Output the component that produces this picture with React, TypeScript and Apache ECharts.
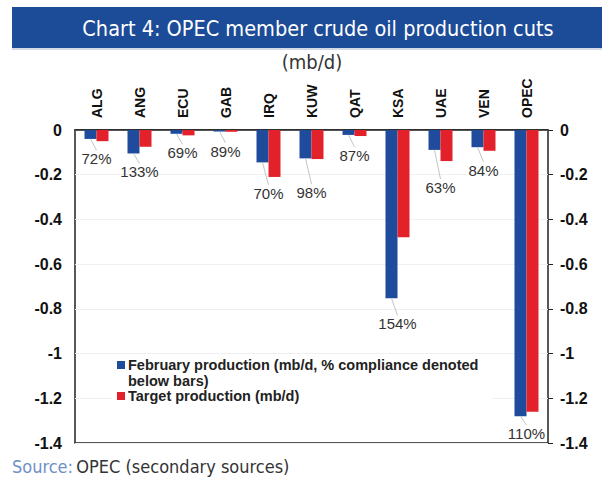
import React, { useEffect, useRef } from "react";
import * as echarts from "echarts";

const categories = ["ALG", "ANG", "ECU", "GAB", "IRQ", "KUW", "QAT", "KSA", "UAE", "VEN", "OPEC"];
const februaryProduction = [-0.04, -0.105, -0.017, -0.007, -0.145, -0.127, -0.022, -0.753, -0.089, -0.077, -1.28];
const targetProduction = [-0.05, -0.075, -0.024, -0.008, -0.21, -0.13, -0.027, -0.48, -0.139, -0.093, -1.26];
const compliance = ["72%", "133%", "69%", "89%", "70%", "98%", "87%", "154%", "63%", "84%", "110%"];
const yTicks = { min: -1.4, max: 0, interval: 0.2 };

const titleText = "Chart 4: OPEC member crude oil production cuts";
const unitText = "(mb/d)";
const sourceLabel = "Source:";
const sourceText = "OPEC (secondary sources)";
const legendFeb = ["February production (mb/d, % compliance denoted", "below bars)"];
const legendTarget = "Target production (mb/d)";

// layout only: leader-line length (px) below the lower bar for each compliance label
const leaderPx = [9, 10, 9, 11, 8, 25, 11, 17, 18, 11, 9];

const BLUE = "#1f4b9c";
const RED = "#e3212b";
const SANS = "'Liberation Sans', Arial, sans-serif";
const NARROW = "'DejaVu Sans Condensed', 'Open Sans', sans-serif";

export default function App() {
  const ref = useRef<HTMLDivElement>(null);
  useEffect(() => {
    const chart = echarts.init(ref.current!, null, { renderer: "svg" });
    const labelData = categories.map((c, i) => [i, Math.min(februaryProduction[i], targetProduction[i]), februaryProduction[i], compliance[i], leaderPx[i]]);
    const legendFont = { fill: "#222", fontFamily: SANS, fontWeight: "bold", fontSize: 14.5, verticalAlign: "middle" };
    chart.setOption({
      animation: false,
      backgroundColor: "#ffffff",
      grid: { left: 75, right: 63, top: 130, height: 313, show: true, borderColor: "#222", borderWidth: 1.5, backgroundColor: "transparent" },
      xAxis: {
        type: "category",
        data: categories,
        position: "top",
        axisLine: { show: true, lineStyle: { color: "#222", width: 1.5 } },
        axisTick: { show: false },
        axisLabel: { rotate: 90, margin: 12, color: "#111", fontFamily: SANS, fontWeight: "bold", fontSize: 14 },
      },
      yAxis: [
        {
          type: "value", min: yTicks.min, max: yTicks.max, interval: yTicks.interval, position: "left",
          axisLine: { show: false }, axisTick: { show: false },
          splitLine: { show: true, lineStyle: { color: "#f0f0f0", width: 1 } },
          axisLabel: { margin: 13, color: "#111", fontFamily: SANS, fontWeight: "bold", fontSize: 16 },
        },
        {
          type: "value", min: yTicks.min, max: yTicks.max, interval: yTicks.interval, position: "right",
          axisLine: { show: false }, axisTick: { show: true, length: 5, lineStyle: { color: "#222" } },
          splitLine: { show: false },
          axisLabel: { margin: 12, color: "#111", fontFamily: SANS, fontWeight: "bold", fontSize: 16 },
        },
      ],
      series: [
        { name: "February production", type: "bar", data: februaryProduction, barWidth: 12, barGap: "0%", itemStyle: { color: BLUE }, z: 3 },
        { name: "Target production", type: "bar", data: targetProduction, barWidth: 12, barGap: "0%", itemStyle: { color: RED }, z: 3 },
        {
          type: "custom",
          data: labelData,
          z: 4,
          renderItem: (params: any, api: any) => {
            const i = api.value(0);
            const low = api.value(1);
            const feb = api.value(2);
            const txt = labelData[params.dataIndex][3] as string;
            const len = labelData[params.dataIndex][4] as number;
            const pLow = api.coord([i, low]);
            const pFeb = api.coord([i, feb]);
            const bx = pFeb[0] - 6;
            const labelTop = pLow[1] + len;
            return {
              type: "group",
              children: [
                { type: "line", shape: { x1: bx, y1: pFeb[1], x2: pLow[0], y2: labelTop }, style: { stroke: "#c4c4c4", lineWidth: 1 } },
                { type: "text", style: { text: txt, x: pLow[0], y: labelTop + 1, align: "center", verticalAlign: "top", fill: "#333", fontFamily: SANS, fontSize: 15 } },
              ],
            };
          },
        },
      ],
      graphic: [
        { type: "rect", shape: { x: 12, y: 7, width: 590, height: 41 }, style: { fill: "#1c4b98" } },
        { type: "rect", shape: { x: 12, y: 48, width: 590, height: 2 }, style: { fill: "#d3d9e6" } },
        { type: "text", x: 318, y: 28, style: { text: titleText, fill: "#fff", fontFamily: NARROW, fontSize: 21.5, align: "center", verticalAlign: "middle" } },
        { type: "text", x: 312, y: 62, style: { text: unitText, fill: "#333", fontFamily: NARROW, fontSize: 20, align: "center", verticalAlign: "middle" } },
        { type: "rect", z: 100, shape: { x: 112, y: 354, width: 380, height: 50 }, style: { fill: "#ffffff" } },
        { type: "rect", z: 101, shape: { x: 117, y: 361, width: 8, height: 8 }, style: { fill: BLUE } },
        { type: "text", z: 101, x: 128, y: 365, style: { text: legendFeb[0], ...legendFont } },
        { type: "text", z: 101, x: 128, y: 381, style: { text: legendFeb[1], ...legendFont } },
        { type: "rect", z: 101, shape: { x: 117, y: 392, width: 8, height: 8 }, style: { fill: RED } },
        { type: "text", z: 101, x: 128, y: 396, style: { text: legendTarget, ...legendFont } },
        {
          type: "text", x: 12, y: 466,
          style: {
            text: "{a|" + sourceLabel + "} {b|" + sourceText + "}",
            verticalAlign: "middle",
            rich: {
              a: { fill: "#6f8fc6", fontFamily: NARROW, fontSize: 18 },
              b: { fill: "#333", fontFamily: NARROW, fontSize: 18 },
            },
          },
        },
      ],
    });
    return () => chart.dispose();
  }, []);
  return <div ref={ref} style={{ position: "fixed", left: 0, top: 0, width: 611, height: 483 }} />;
}
